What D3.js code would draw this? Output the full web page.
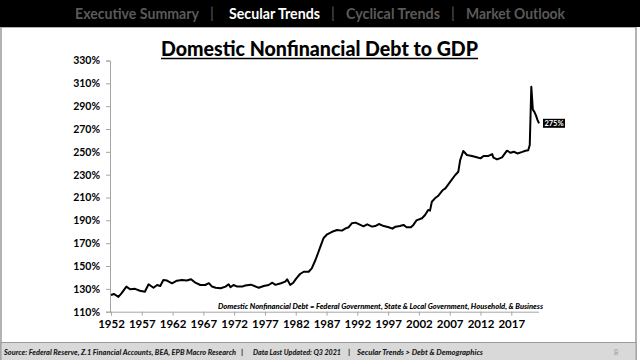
<!DOCTYPE html>
<html><head><meta charset="utf-8">
<script src="https://cdn.jsdelivr.net/npm/d3@7"></script>
<style>html,body{margin:0;padding:0;background:#fff;}svg{display:block;}</style>
</head><body>
<script>
// ---- data ----
const years = [1952.0,1952.5,1953.2,1953.7,1954.5,1955.1,1955.9,1956.7,1957.5,1958.1,1958.9,1959.5,1960.0,1960.5,1961.1,1961.9,1962.7,1963.5,1964.3,1965.0,1965.7,1966.5,1967.3,1967.9,1968.4,1969.0,1969.8,1970.6,1971.1,1971.4,1971.9,1972.5,1973.3,1973.8,1974.7,1975.5,1976.0,1976.8,1977.6,1978.2,1978.7,1979.6,1980.3,1980.6,1981.1,1981.6,1982.1,1982.7,1983.3,1984.1,1984.6,1985.2,1985.7,1986.0,1986.5,1987.1,1987.9,1988.7,1989.5,1990.1,1990.6,1991.1,1991.7,1992.5,1993.0,1993.6,1994.4,1994.9,1995.5,1996.3,1997.1,1997.7,1998.2,1998.9,1999.5,2000.0,2000.7,2001.1,2001.6,2002.5,2003.0,2003.5,2003.8,2004.1,2004.6,2005.1,2005.9,2006.3,2007.1,2007.9,2008.4,2008.7,2009.2,2009.8,2010.6,2011.4,2012.0,2012.5,2013.3,2013.9,2014.1,2014.7,2015.5,2016.3,2016.9,2017.4,2018.0,2018.8,2019.3,2019.75,2020.0,2020.25,2020.5,2020.75,2021.0,2021.25,2021.5];
const debtPct = [124.6,125.5,123,126,132,129.6,130,128.4,127.5,134,131,133.4,132.5,137.8,137.3,134.9,137.2,137.8,137.3,138.4,135.4,133.4,133.4,135,132,131,130.5,132,134,131.5,133.4,132,132,133,133.7,132,131,132.5,133.4,135.4,133.5,134.9,136.3,138.4,133.5,135.4,139.2,143,145,145,148,155.3,162.5,167,174.3,177.8,180,181.5,181,183,184,187.4,188,186,184.8,186.5,184.5,185,186.8,185,184,182.7,184.5,185,186,184,184,186,190,191.8,194.7,199,198.5,206.3,209.3,211.3,216.6,218,223.9,229.7,232.6,242.8,250.7,247.2,246.4,245.2,244.3,246.4,246.4,248,245,243.4,245.2,251,249.2,250.1,248.6,250,251,251.4,256,307,287,285,282,278,275];
const yTicks = [110,130,150,170,190,210,230,250,270,290,310,330];
const xTicks = [1952,1957,1962,1967,1972,1977,1982,1987,1992,1997,2002,2007,2012,2017];
const navItems = ["Executive Summary","Secular Trends","Cyclical Trends","Market Outlook"];
const activeNav = "Secular Trends";
const title = "Domestic Nonfinancial Debt to GDP";
const footnote = "Domestic Nonfinancial Debt = Federal Government, State & Local Government, Household, & Business";
const footerParts = ["Source: Federal Reserve, Z.1 Financial Accounts, BEA, EPB Macro Research","Data Last Updated: Q3 2021","Secular Trends > Debt & Demographics"];
const pageNum = "8";
const lastLabel = "275%";

// ---- layout ----
const W = 640, H = 360;
const svg = d3.select("body").append("svg").attr("width", W).attr("height", H);
const font = "Lato, 'Open Sans', sans-serif";

// page frame
svg.append("rect").attr("x",0).attr("y",0).attr("width",W).attr("height",H).attr("fill","#fff");
svg.append("rect").attr("x",1).attr("y",27).attr("width",635).attr("height",333).attr("fill","#fff").attr("stroke","#9a9a9a").attr("stroke-width",1.5);

// nav bar
svg.append("rect").attr("x",0).attr("y",0).attr("width",W).attr("height",27).attr("fill","#000");
const navPos = [[75,124],[229,91],[346,94],[466,99]];
const sepX = [212,333,453];
navItems.forEach((t,i)=>{
  svg.append("text").attr("x",navPos[i][0]).attr("y",18.5).attr("textLength",navPos[i][1]).attr("lengthAdjust","spacingAndGlyphs")
    .attr("font-family",font).attr("font-weight","bold").attr("font-size",15.5)
    .attr("fill", t===activeNav ? "#fff" : "#5a5a5a").text(t);
});
sepX.forEach(x=>{
  svg.append("text").attr("x",x).attr("y",18).attr("text-anchor","middle").attr("font-family",font).attr("font-size",15).attr("fill","#5a5a5a").text("|");
});

// title
svg.append("text").attr("x",319.5).attr("y",56).attr("text-anchor","middle").attr("textLength",317).attr("lengthAdjust","spacingAndGlyphs")
  .attr("font-family",font).attr("font-weight","900").attr("font-size",20).attr("fill","#000").text(title);
svg.append("line").attr("x1",161).attr("x2",478).attr("y1",58.5).attr("y2",58.5).attr("stroke","#000").attr("stroke-width",1.5);

// scales
const x = d3.scaleLinear().domain([1952, 2021.5]).range([111, 539]);
const y = d3.scaleLinear().domain([110, 330]).range([311.7, 60.5]);

// y axis
const yAxis = svg.append("g").attr("transform","translate(110,0)")
  .call(d3.axisLeft(y).tickValues(yTicks).tickSize(4).tickPadding(6).tickFormat(d=>d+"%"));
yAxis.select(".domain").attr("stroke","#a6a6a6");
yAxis.selectAll(".tick line").attr("stroke","#a6a6a6");
yAxis.selectAll("text").attr("font-family",font).attr("font-weight","bold").attr("font-size",10.5).attr("fill","#000");

// x axis
const xAxis = svg.append("g").attr("transform","translate(0,311.7)")
  .call(d3.axisBottom(x).tickValues(xTicks).tickSize(4).tickPadding(4).tickFormat(d=>String(d)));
xAxis.select(".domain").attr("stroke","#a6a6a6").attr("d","M110,0.5H539");
xAxis.selectAll(".tick line").attr("stroke","#a6a6a6");
xAxis.selectAll("text").attr("font-family",font).attr("font-weight","bold").attr("font-size",11.5).attr("fill","#000");

// line
const pts = years.map((yr,i)=>[yr, debtPct[i]]);
svg.append("path").datum(pts).attr("fill","none").attr("stroke","#000").attr("stroke-width",2).attr("stroke-linejoin","round")
  .attr("d", d3.line().x(d=>x(d[0])).y(d=>y(d[1])));

// last value label
const lx = x(years[years.length-1]) + 4, ly = y(debtPct[debtPct.length-1]);
svg.append("rect").attr("x",lx).attr("y",ly-4.5).attr("width",22).attr("height",9).attr("fill","#000");
svg.append("text").attr("x",lx+11).attr("y",ly+2.6).attr("text-anchor","middle").attr("font-family",font).attr("font-weight","bold").attr("font-size",7.5).attr("fill","#fff").text(lastLabel);

// footnote
svg.append("text").attr("x",543).attr("y",308.5).attr("text-anchor","end").attr("textLength",325).attr("lengthAdjust","spacingAndGlyphs")
  .attr("font-family",font).attr("font-weight","900").attr("font-style","italic").attr("font-size",7.5).attr("fill","#000").text(footnote);

// footer band
svg.append("rect").attr("x",1).attr("y",342.5).attr("width",635).attr("height",18).attr("fill","#d9d9d9").attr("stroke","#9a9a9a").attr("stroke-width",1);
const fPos = [[4,232],[253,88],[357,126]];
footerParts.forEach((t,i)=>{
  svg.append("text").attr("x",fPos[i][0]).attr("y",354.5).attr("textLength",fPos[i][1]).attr("lengthAdjust","spacingAndGlyphs")
    .attr("font-family",font).attr("font-weight","900").attr("font-style","italic").attr("font-size",7.5).attr("fill","#1a1a1a").text(t);
});
[242,349].forEach(xx=>{
  svg.append("text").attr("x",xx).attr("y",354.5).attr("text-anchor","middle").attr("font-family",font).attr("font-weight","bold").attr("font-style","italic").attr("font-size",8).attr("fill","#1a1a1a").text("|");
});
svg.append("text").attr("x",616).attr("y",354.5).attr("text-anchor","middle").attr("font-family",font).attr("font-size",8).attr("fill","#9a9a9a").text(pageNum);
</script>
</body></html>
